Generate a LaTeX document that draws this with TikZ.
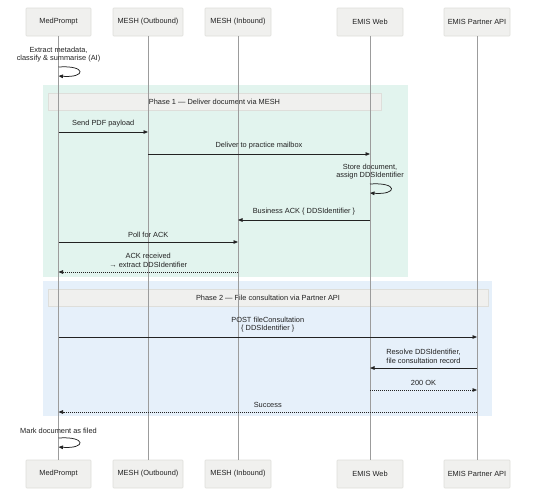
\documentclass[tikz,border=0pt]{standalone}
\usepackage{fontspec}
\setmainfont{Liberation Sans}
\usetikzlibrary{arrows.meta}
\definecolor{boxfill}{HTML}{F0F0EE}
\definecolor{boxline}{HTML}{DEDEDA}
\definecolor{lifec}{HTML}{9C9C9C}
\definecolor{greenbg}{HTML}{E2F4EE}
\definecolor{bluebg}{HTML}{E6F0FA}
\definecolor{ink}{HTML}{222222}
\begin{document}
\begin{tikzpicture}[x=1pt,y=-1pt,
  every node/.style={font=\fontsize{7.4}{8.4}\selectfont, text=ink},
  actor/.style={draw=boxline, fill=boxfill, line width=0.6pt, minimum width=66pt, minimum height=28pt, inner sep=0pt, rounded corners=0.8pt},
  phasehdr/.style={draw=boxline, fill=boxfill, line width=0.6pt, minimum height=17pt, inner sep=0pt},
  lifeline/.style={draw=lifec, line width=0.9pt},
  msg/.style={draw=ink, line width=0.75pt, -{Triangle[length=4.5pt,width=3.6pt]}},
  reply/.style={msg, dash pattern=on 1pt off 1pt},
  lbl/.style={above=4.5pt, inner sep=0pt, align=center},
]
\path[use as bounding box] (0,0) rectangle (534,499);

% phase regions
\fill[greenbg] (43,85) rectangle (408,277);
\fill[bluebg] (43,281) rectangle (492,416);
\node[phasehdr, minimum width=333pt] (ph1) at (214.5,101.5) {Phase 1 — Deliver document via MESH};
\node[phasehdr, minimum width=440pt] (ph2) at (268,297.5) {Phase 2 — File consultation via Partner API};

% actors
\node[actor, minimum width=65pt] (mpT) at (58.5,22) {MedPrompt};
\node[actor, minimum width=70pt] (moT) at (148,22) {MESH (Outbound)};
\node[actor] (miT) at (238,22) {MESH (Inbound)};
\node[actor] (ewT) at (370,22) {EMIS Web};
\node[actor] (epT) at (477,22) {EMIS Partner API};
\node[actor, minimum width=65pt] (mpB) at (58.5,474) {MedPrompt};
\node[actor, minimum width=70pt] (moB) at (148,474) {MESH (Outbound)};
\node[actor] (miB) at (238,474) {MESH (Inbound)};
\node[actor] (ewB) at (370,474) {EMIS Web};
\node[actor] (epB) at (477,474) {EMIS Partner API};

% lifelines
\draw[lifeline] (mpT) -- (mpB);
\draw[lifeline] (moT) -- (moB);
\draw[lifeline] (miT) -- (miB);
\draw[lifeline] (ewT) -- (ewB);
\draw[lifeline] (epT) -- (epB);

% message anchor points
\coordinate (s1a) at (58.5,67);  \coordinate (s1b) at (58.5,76);
\coordinate (m1a) at (58.5,132); \coordinate (m1b) at (148,132);
\coordinate (m2a) at (148,154);  \coordinate (m2b) at (370,154);
\coordinate (s2a) at (370,184);  \coordinate (s2b) at (370,193);
\coordinate (m3a) at (370,220);  \coordinate (m3b) at (238,220);
\coordinate (m4a) at (58.5,242); \coordinate (m4b) at (238,242);
\coordinate (m5a) at (238,272);  \coordinate (m5b) at (58.5,272);
\coordinate (m6a) at (58.5,337); \coordinate (m6b) at (477,337);
\coordinate (m7a) at (477,368);  \coordinate (m7b) at (370,368);
\coordinate (m8a) at (370,390);  \coordinate (m8b) at (477,390);
\coordinate (m9a) at (477,412);  \coordinate (m9b) at (58.5,412);
\coordinate (s3a) at (58.5,438); \coordinate (s3b) at (58.5,447);

% self message: extract
\node[lbl] (l1) at (s1a) {Extract metadata,\\classify \& summarise (AI)};
\draw[msg] (s1a) .. controls ++(28,-2) and ++(28,2) .. (s1b);

% phase 1
\draw[msg] (m1a) -- node[lbl] (l2) {Send PDF payload} (m1b);
\draw[msg] (m2a) -- node[lbl] (l3) {Deliver to practice mailbox} (m2b);
\node[lbl] (l4) at (s2a) {Store document,\\assign DDSIdentifier};
\draw[msg] (s2a) .. controls ++(28,-2) and ++(28,2) .. (s2b);
\draw[msg] (m3a) -- node[lbl] (l5) {Business ACK \{ DDSIdentifier \}} (m3b);
\draw[msg] (m4a) -- node[lbl] (l6) {Poll for ACK} (m4b);
\draw[reply] (m5a) -- node[lbl] (l7) {ACK received\\→ extract DDSIdentifier} (m5b);

% phase 2
\draw[msg] (m6a) -- node[lbl] (l8) {POST fileConsultation\\\{ DDSIdentifier \}} (m6b);
\draw[msg] (m7a) -- node[lbl] (l9) {Resolve DDSIdentifier,\\file consultation record} (m7b);
\draw[reply] (m8a) -- node[lbl] (l10) {200 OK} (m8b);
\draw[reply] (m9a) -- node[lbl] (l11) {Success} (m9b);

% self message: mark filed
\node[lbl] (l12) at (s3a) {Mark document as filed};
\draw[msg] (s3a) .. controls ++(28,-2) and ++(28,2) .. (s3b);
\end{tikzpicture}
\end{document}
